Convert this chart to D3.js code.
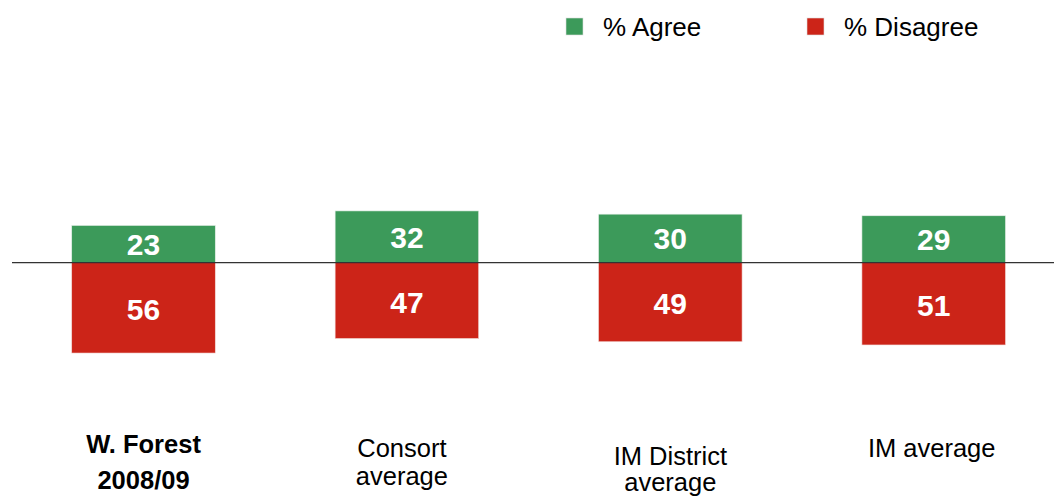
<!DOCTYPE html>
<html>
<head>
<meta charset="utf-8">
<script src="https://cdn.jsdelivr.net/npm/d3@7"></script>
<style>
  html, body { margin: 0; padding: 0; background: #fff; }
  svg { display: block; font-family: "Liberation Sans", Arial, Helvetica, sans-serif; }
</style>
</head>
<body>
<svg id="chart" width="1054" height="496"></svg>
<script>
// data
const categories = ['W. Forest 2008/09', 'Consort average', 'IM District average', 'IM average'];
const labelLines = [['W. Forest', '2008/09'], ['Consort', 'average'], ['IM District', 'average'], ['IM average']];
const agree = [23, 32, 30, 29];
const disagree = [56, 47, 49, 51];
const seriesNames = ['% Agree', '% Disagree'];

// layout
const labelTop = [453, 457, 465, 457];         // first baseline of each category label
const labelGap = [36, 28, 26, 28];             // line spacing of each category label
const labelShift = [0, -5, 0, -2];             // small horizontal nudge of each label
const colors = { agree: '#3c9a5a', disagree: '#cc2418' };

const svg = d3.select('#chart');

const x = d3.scaleBand()
  .domain(categories)
  .range([11.8, 1065.4])
  .paddingInner(0.455)
  .paddingOuter(0.2275);

const y = d3.scaleLinear()                     // positive = agree (up), negative = disagree (down)
  .domain([-60, 40])
  .range([359.5, 198]);

const rows = categories.map((c, i) => ({ cat: c, agree: agree[i], disagree: disagree[i], i }));

// agree bars
svg.append('g').selectAll('rect')
  .data(rows).enter().append('rect')
  .attr('x', d => x(d.cat))
  .attr('width', x.bandwidth())
  .attr('y', d => y(d.agree))
  .attr('height', d => y(0) - y(d.agree))
  .attr('fill', colors.agree)
  .attr('stroke', '#e6efe8')
  .attr('stroke-width', 0.6);

// disagree bars
svg.append('g').selectAll('rect')
  .data(rows).enter().append('rect')
  .attr('x', d => x(d.cat))
  .attr('width', x.bandwidth())
  .attr('y', y(0))
  .attr('height', d => y(-d.disagree) - y(0))
  .attr('fill', colors.disagree)
  .attr('stroke', '#f2dcda')
  .attr('stroke-width', 0.6);

// baseline
svg.append('line')
  .attr('x1', 12).attr('x2', 1054)
  .attr('y1', y(0)).attr('y2', y(0))
  .attr('stroke', '#333')
  .attr('stroke-width', 1.4);

// value labels
const valStyle = sel => sel
  .attr('text-anchor', 'middle')
  .attr('fill', '#fff')
  .style('font-size', '30px')
  .style('font-weight', 'bold');

svg.append('g').selectAll('text')
  .data(rows).enter().append('text')
  .call(valStyle)
  .attr('x', d => x(d.cat) + x.bandwidth() / 2)
  .attr('y', d => (y(d.agree) + y(0)) / 2 + 11)
  .text(d => d.agree);

svg.append('g').selectAll('text')
  .data(rows).enter().append('text')
  .call(valStyle)
  .attr('x', d => x(d.cat) + x.bandwidth() / 2)
  .attr('y', d => (y(-d.disagree) + y(0)) / 2 + 12)
  .text(d => d.disagree);

// category labels
const cats = svg.append('g').selectAll('text')
  .data(rows).enter().append('text')
  .attr('text-anchor', 'middle')
  .attr('fill', '#000')
  .style('font-size', '25.5px')
  .style('font-weight', d => d.i === 0 ? 'bold' : 'normal')
  .attr('transform', d => `translate(${x(d.cat) + x.bandwidth() / 2 + labelShift[d.i]},${labelTop[d.i]})`);

cats.each(function (d) {
  const t = d3.select(this);
  labelLines[d.i].forEach((line, k) => {
    t.append('tspan').attr('x', 0).attr('y', k * labelGap[d.i]).text(line);
  });
});

// legend
const legend = svg.append('g').selectAll('g')
  .data(seriesNames).enter().append('g')
  .attr('transform', (d, i) => `translate(${566 + i * 241},18)`);

legend.append('rect')
  .attr('width', 17).attr('height', 17)
  .attr('fill', (d, i) => i === 0 ? colors.agree : colors.disagree)
  .attr('stroke', '#ddd')
  .attr('stroke-width', 0.6);

legend.append('text')
  .attr('x', 37).attr('y', 17.5)
  .style('font-size', '26px')
  .attr('fill', '#000')
  .text(d => d);
</script>
</body>
</html>
